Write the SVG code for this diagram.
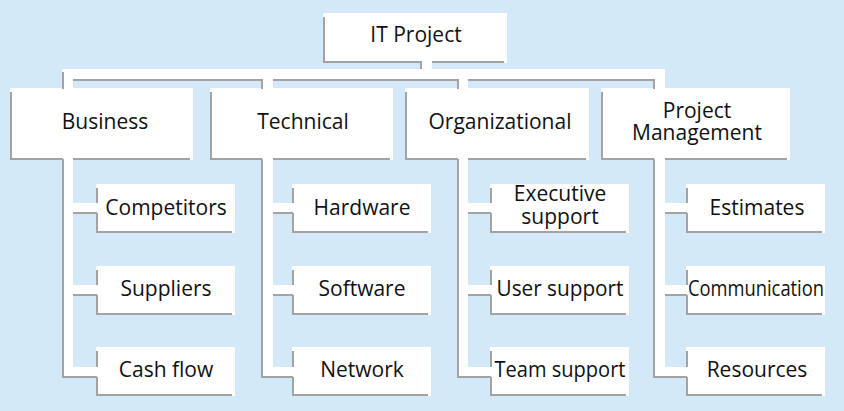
<svg xmlns="http://www.w3.org/2000/svg" width="844" height="411" viewBox="0 0 844 411">
<style>
.bg{fill:#d3e9f8}
.box{fill:#ffffff}
.w{fill:#ffffff}
.sh{fill:none;stroke:#a3a3a3;stroke-width:2}
.t{font-family:"Open Sans","Noto Sans",sans-serif;font-size:21px;fill:#111111;text-anchor:middle}
</style>
<rect class="bg" x="0" y="0" width="844" height="411"/>

<g id="it-project"><rect class="box" x="323" y="13" width="184" height="50"/><path class="sh" d="M324,17V62H504"/><text class="t" x="416" y="42">IT Project</text></g>

<g id="business"><rect class="box" x="10" y="88" width="183" height="72"/><path class="sh" d="M11,92V159H190"/><text class="t" x="105" y="129">Business</text></g>
<g id="technical"><rect class="box" x="210" y="88" width="183" height="72"/><path class="sh" d="M211,92V159H390"/><text class="t" x="303" y="129">Technical</text></g>
<g id="organizational"><rect class="box" x="405" y="88" width="184" height="72"/><path class="sh" d="M406,92V159H586"/><text class="t" x="500" y="129">Organizational</text></g>
<g id="project-management"><rect class="box" x="601" y="88" width="189" height="72"/><path class="sh" d="M602,92V159H787"/><text class="t" x="697" y="118">Project</text><text class="t" x="697" y="140">Management</text></g>

<g id="competitors"><rect class="box" x="96" y="184" width="139" height="49"/><path class="sh" d="M97,188V232H232"/><text class="t" x="166" y="215">Competitors</text></g>
<g id="suppliers"><rect class="box" x="96" y="266" width="139" height="49"/><path class="sh" d="M97,270V314H232"/><text class="t" x="166" y="296">Suppliers</text></g>
<g id="cash-flow"><rect class="box" x="96" y="347" width="139" height="49"/><path class="sh" d="M97,351V395H232"/><text class="t" x="166" y="377">Cash flow</text></g>

<g id="hardware"><rect class="box" x="292" y="184" width="139" height="49"/><path class="sh" d="M293,188V232H428"/><text class="t" x="362" y="215">Hardware</text></g>
<g id="software"><rect class="box" x="292" y="266" width="139" height="49"/><path class="sh" d="M293,270V314H428"/><text class="t" x="362" y="296">Software</text></g>
<g id="network"><rect class="box" x="292" y="347" width="139" height="49"/><path class="sh" d="M293,351V395H428"/><text class="t" x="362" y="377">Network</text></g>

<g id="executive-support"><rect class="box" x="490" y="184" width="139" height="49"/><path class="sh" d="M491,188V232H626"/><text class="t" x="560" y="201">Executive</text><text class="t" x="560" y="224">support</text></g>
<g id="user-support"><rect class="box" x="490" y="266" width="139" height="49"/><path class="sh" d="M491,270V314H626"/><text class="t" x="560" y="296" textLength="127" lengthAdjust="spacingAndGlyphs">User support</text></g>
<g id="team-support"><rect class="box" x="490" y="347" width="139" height="49"/><path class="sh" d="M491,351V395H626"/><text class="t" x="560" y="377" textLength="131" lengthAdjust="spacingAndGlyphs">Team support</text></g>

<g id="estimates"><rect class="box" x="686" y="184" width="139" height="49"/><path class="sh" d="M687,188V232H822"/><text class="t" x="757" y="215">Estimates</text></g>
<g id="communication"><rect class="box" x="686" y="266" width="139" height="49"/><path class="sh" d="M687,270V314H822"/><text class="t" x="756" y="296" textLength="136" lengthAdjust="spacingAndGlyphs">Communication</text></g>
<g id="resources"><rect class="box" x="686" y="347" width="139" height="49"/><path class="sh" d="M687,351V395H822"/><text class="t" x="757" y="377">Resources</text></g>

<g id="connectors">
<rect class="w" x="422" y="58" width="10" height="12"/>
<rect class="w" x="62" y="69" width="603" height="11"/>
<rect class="w" x="62" y="79" width="11" height="11"/>
<rect class="w" x="261" y="79" width="12" height="11"/>
<rect class="w" x="457" y="79" width="11" height="11"/>
<rect class="w" x="653" y="79" width="12" height="11"/>
<rect class="w" x="63" y="156" width="10" height="221"/>
<rect class="w" x="262" y="156" width="11" height="221"/>
<rect class="w" x="458" y="156" width="10" height="221"/>
<rect class="w" x="654" y="156" width="11" height="221"/>
<rect class="w" x="72" y="203" width="27" height="10"/>
<rect class="w" x="72" y="285" width="27" height="10"/>
<rect class="w" x="72" y="367" width="27" height="10"/>
<rect class="w" x="272" y="203" width="23" height="10"/>
<rect class="w" x="272" y="285" width="23" height="10"/>
<rect class="w" x="272" y="367" width="23" height="10"/>
<rect class="w" x="467" y="203" width="26" height="10"/>
<rect class="w" x="467" y="285" width="26" height="10"/>
<rect class="w" x="467" y="367" width="26" height="10"/>
<rect class="w" x="664" y="203" width="25" height="10"/>
<rect class="w" x="664" y="285" width="25" height="10"/>
<rect class="w" x="664" y="367" width="25" height="10"/>
<path class="sh" d="M421,61V69"/>
<path class="sh" d="M73,80H263M273,80H459M468,80H655"/>
<path class="sh" d="M63,72V89M262,80V89M458,80V89M654,80V89"/>
<path class="sh" d="M63,159V377H97M73,213H97M73,295H97"/>
<path class="sh" d="M262,159V377H293M273,213H293M273,295H293"/>
<path class="sh" d="M458,159V377H491M468,213H491M468,295H491"/>
<path class="sh" d="M654,159V377H687M665,213H687M665,295H687"/>
</g>
</svg>
